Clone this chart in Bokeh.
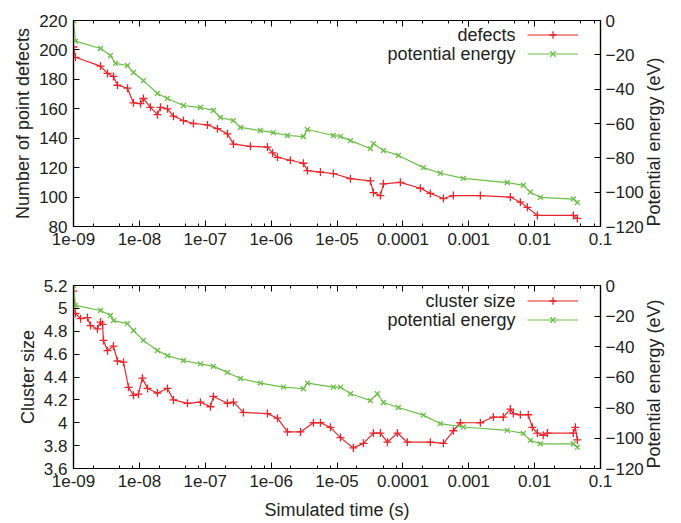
import math
from bokeh.plotting import figure
from bokeh.models import (Range1d, LinearAxis, LogAxis, FixedTicker, Legend, LegendItem,
                          Label, CustomJSTickFormatter)
from bokeh.layouts import column
from bokeh.embed import file_html
from bokeh.resources import INLINE

# ---------------- data ----------------
t_defects = [1.0e-9, 1.07e-9, 2.57e-9, 3.28e-9, 4.04e-9, 4.65e-9, 6.60e-9, 8.13e-9, 1.04e-8, 1.15e-8,
             1.47e-8, 1.88e-8, 2.09e-8, 2.67e-8, 3.29e-8, 4.67e-8, 6.62e-8, 1.08e-7, 1.53e-7, 2.17e-7,
             2.68e-7, 4.85e-7, 8.79e-7, 1.05e-6, 1.25e-6, 1.96e-6, 3.09e-6, 3.56e-6, 5.60e-6, 8.81e-6,
             1.60e-5, 3.21e-5, 3.57e-5, 4.56e-5, 5.06e-5, 9.16e-5, 1.84e-4, 2.61e-4, 4.12e-4, 5.84e-4,
             1.50e-3, 4.28e-3, 6.07e-3, 7.75e-3, 1.10e-2, 3.87e-2, 4.45e-2]
defects = [202, 195, 189, 184, 182, 176, 174, 164, 163.5, 167,
           161, 156, 161, 160, 155, 152, 150, 149, 146.5, 143,
           136, 134.5, 134, 130, 127, 125, 123, 118, 117, 116,
           112.5, 111, 103, 101, 109, 110, 106, 102.5, 99, 101,
           101, 100, 96.5, 93, 87.5, 87.5, 85.5]

t_energy_top = [1.0e-9, 1.07e-9, 2.57e-9, 3.64e-9, 4.34e-9, 6.60e-9, 8.13e-9, 1.15e-8, 1.88e-8, 2.67e-8,
                4.67e-8, 8.45e-8, 1.33e-7, 1.70e-7, 2.68e-7, 3.42e-7, 6.88e-7, 1.08e-6, 1.77e-6, 3.09e-6,
                3.56e-6, 8.81e-6, 1.13e-5, 1.60e-5, 3.21e-5, 3.57e-5, 5.06e-5, 8.55e-5, 2.05e-4, 3.71e-4,
                8.28e-4, 3.85e-3, 6.74e-3, 8.60e-3, 1.22e-2, 3.87e-2, 4.45e-2]
energy_top = [0, -12, -16.3, -20.4, -25, -26.2, -30.3, -35, -42.5, -45.4,
              -49.5, -50.7, -52.4, -56.5, -58.3, -62.3, -64.1, -65.3, -67, -67.6,
              -63.5, -67, -67.5, -70, -74.6, -71.7, -75.7, -78.6, -85.7, -89,
              -92, -94.4, -96, -100, -103, -104, -106]

t_cluster = [1.0e-9, 1.07e-9, 1.28e-9, 1.63e-9, 1.81e-9, 2.31e-9, 2.57e-9, 2.76e-9, 2.85e-9, 3.28e-9,
             4.04e-9, 4.65e-9, 5.74e-9, 6.84e-9, 8.13e-9, 9.68e-9, 1.11e-8, 1.33e-8, 1.88e-8, 2.67e-8,
             3.29e-8, 5.37e-8, 8.45e-8, 1.20e-7, 1.33e-7, 2.17e-7, 2.68e-7, 3.80e-7, 8.79e-7, 1.25e-6,
             1.77e-6, 2.79e-6, 4.39e-6, 5.60e-6, 7.94e-6, 1.13e-5, 1.77e-5, 2.52e-5, 3.57e-5, 4.56e-5,
             5.82e-5, 8.26e-5, 1.17e-4, 2.61e-4, 4.12e-4, 5.84e-4, 7.46e-4, 1.50e-3, 2.36e-3, 3.35e-3,
             4.28e-3, 4.75e-3, 6.07e-3, 8.02e-3, 9.23e-3, 1.10e-2, 1.35e-2, 1.56e-2, 3.87e-2, 4.15e-2,
             4.45e-2]
cluster = [5.15, 4.955, 4.91, 4.92, 4.85, 4.82, 4.88, 4.86, 4.72, 4.63,
           4.67, 4.54, 4.53, 4.31, 4.24, 4.25, 4.39, 4.30, 4.26, 4.30,
           4.20, 4.17, 4.18, 4.14, 4.23, 4.17, 4.18, 4.09, 4.08, 4.04,
           3.92, 3.92, 4.00, 4.00, 3.96, 3.87, 3.78, 3.82, 3.91, 3.91,
           3.83, 3.91, 3.83, 3.83, 3.82, 3.93, 4.00, 4.00, 4.05, 4.05,
           4.12, 4.08, 4.07, 4.07, 3.96, 3.91, 3.89, 3.91, 3.91, 3.96,
           3.85]

t_energy_bot = [1.0e-9, 1.07e-9, 2.57e-9, 3.64e-9, 4.04e-9, 6.60e-9, 8.13e-9, 1.15e-8, 1.88e-8, 2.67e-8,
                4.67e-8, 8.45e-8, 1.33e-7, 2.17e-7, 3.42e-7, 6.88e-7, 1.54e-6, 3.09e-6, 3.56e-6, 8.81e-6,
                1.13e-5, 1.60e-5, 3.21e-5, 4.10e-5, 5.06e-5, 8.55e-5, 2.05e-4, 3.71e-4, 8.28e-4, 3.85e-3,
                6.74e-3, 8.60e-3, 1.22e-2, 3.87e-2, 4.45e-2]
energy_bot = [0, -13, -16.4, -19.7, -23, -25, -29.5, -36, -42.6, -46,
              -49.2, -51.4, -53, -57, -61, -64, -66.6, -67.7, -64, -66.6,
              -66.6, -71, -75.4, -71, -76.7, -80, -85, -90.6, -92.8, -95,
              -97, -101.6, -103.8, -103.8, -106]

x_ticks = [1e-9, 1e-8, 1e-7, 1e-6, 1e-5, 1e-4, 1e-3, 1e-2, 1e-1]
x_tick_labels = ["1e-09", "1e-08", "1e-07", "1e-06", "1e-05", "0.0001", "0.001", "0.01", "0.1"]
x_minor_mult = [2, 5, 8]
defects_ticks = [80, 100, 120, 140, 160, 180, 200, 220]
energy_ticks = [-120, -100, -80, -60, -40, -20, 0]
cluster_ticks = [3.6, 3.8, 4.0, 4.2, 4.4, 4.6, 4.8, 5.0, 5.2]
cluster_tick_labels = ["3.6", "3.8", "4", "4.2", "4.4", "4.6", "4.8", "5", "5.2"]

# ---------------- style ----------------
RED = "#e8262b"
GREEN = "#6abf45"
TXT = "#222222"
FONT = "Liberation Sans"
TICK_FS = "17px"
LAB_FS = "18px"

x_minor = [m * t for t in x_ticks[:-1] for m in x_minor_mult]


def x_formatter():
    return CustomJSTickFormatter(args=dict(tvals=x_ticks, tlabs=x_tick_labels), code="""
        let best = 0;
        const lt = Math.log10(tick);
        for (let i = 0; i < tvals.length; i++) {
            if (Math.abs(Math.log10(tvals[i]) - lt) < Math.abs(Math.log10(tvals[best]) - lt)) best = i;
        }
        return tlabs[best];
    """)


def style_axis(ax, minor=False):
    ax.axis_line_color = "black"
    ax.axis_line_width = 1.2
    ax.major_tick_in = 6
    ax.major_tick_out = 0
    ax.major_tick_line_color = "black"
    ax.major_tick_line_width = 1
    if minor:
        ax.minor_tick_in = 3
        ax.minor_tick_out = 0
        ax.minor_tick_line_color = "black"
    else:
        ax.minor_tick_line_color = None
    ax.major_label_text_font = FONT
    ax.major_label_text_font_size = TICK_FS
    ax.major_label_text_color = TXT
    ax.axis_label_text_font = FONT
    ax.axis_label_text_font_size = LAB_FS
    ax.axis_label_text_font_style = "normal"
    ax.axis_label_text_color = TXT


def make_panel(yrange, yticks, ylabel, tA, yA, tB, yB, top_border, bottom_border,
               frame_h, xlabel=None, yfmt=None):
    p = figure(x_axis_type="log", x_range=Range1d(1e-9, 0.1), y_range=Range1d(*yrange),
               frame_width=527, frame_height=frame_h,
               min_border_left=73, min_border_right=81, min_border_top=top_border,
               min_border_bottom=bottom_border,
               toolbar_location=None, output_backend="svg")
    p.extra_y_ranges = {"energy": Range1d(-120, 0)}
    p.xgrid.visible = False
    p.ygrid.visible = False
    p.outline_line_color = "black"
    p.outline_line_width = 1.2
    p.background_fill_color = "white"
    p.border_fill_color = "white"

    xa = p.xaxis[0]
    xa.ticker = FixedTicker(ticks=x_ticks, minor_ticks=x_minor)
    xa.formatter = x_formatter()
    style_axis(xa, minor=True)
    xa.major_label_standoff = 6
    if xlabel:
        xa.axis_label = xlabel
        xa.axis_label_standoff = 10

    # mirrored ticks on the top border (no labels)
    top_ax = LogAxis(ticker=FixedTicker(ticks=x_ticks, minor_ticks=x_minor),
                     formatter=CustomJSTickFormatter(code="return '';"))
    style_axis(top_ax, minor=True)
    top_ax.major_label_standoff = 0
    p.add_layout(top_ax, "above")

    ya = p.yaxis[0]
    ya.ticker = FixedTicker(ticks=yticks)
    if yfmt is not None:
        ya.formatter = yfmt
    style_axis(ya)
    ya.major_label_standoff = 6
    ya.axis_label = ylabel
    ya.axis_label_standoff = 3

    ra = LinearAxis(y_range_name="energy", ticker=FixedTicker(ticks=energy_ticks))
    style_axis(ra)
    ra.major_label_standoff = 5
    ra.axis_label = "Potential energy (eV)"
    ra.axis_label_standoff = 7
    props = ra.properties()
    if "axis_label_orientation" in props:
        ra.axis_label_orientation = math.pi / 2
        if "axis_label_align" in props:
            ra.axis_label_align = "start"
    p.add_layout(ra, "right")

    lA = p.line(tA, yA, line_color=RED, line_width=1.2)
    sA = p.scatter(tA, yA, marker="cross", size=8, line_color=RED, line_width=1.3)
    lB = p.line(tB, yB, line_color=GREEN, line_width=1.2, y_range_name="energy")
    sB = p.scatter(tB, yB, marker="x", size=7, line_color=GREEN, line_width=1.3, y_range_name="energy")

    return p, (lA, sA), (lB, sB)


top, redT, greenT = make_panel((80, 220), defects_ticks, "Number of point defects",
                               t_defects, defects, t_energy_top, energy_top,
                               20, 34, 206)
cl_fmt = CustomJSTickFormatter(args=dict(tvals=cluster_ticks, tlabs=cluster_tick_labels), code="""
    let best = 0;
    for (let i = 0; i < tvals.length; i++) {
        if (Math.abs(tvals[i] - tick) < Math.abs(tvals[best] - tick)) best = i;
    }
    return tlabs[best];
""")
bot, redB, greenB = make_panel((3.6, 5.2), cluster_ticks, "Cluster size",
                               t_cluster, cluster, t_energy_bot, energy_bot,
                               25, 55, 183, xlabel="Simulated time (s)", yfmt=cl_fmt)


def add_legend(p, red, green, names, frame_h, row1_from_top):
    leg = Legend(items=[LegendItem(label=" ", renderers=list(red)),
                        LegendItem(label=" ", renderers=list(green))],
                 location=(454, frame_h - (row1_from_top - 9.5) - 38),
                 glyph_width=51, glyph_height=19, label_height=19, label_width=1,
                 label_standoff=0, padding=0, margin=0, spacing=0,
                 border_line_alpha=0, background_fill_alpha=0,
                 label_text_font_size="8px")
    p.add_layout(leg)
    for i, name in enumerate(names):
        p.add_layout(Label(x=442, y=frame_h - (row1_from_top + 19 * i), x_units="screen", y_units="screen",
                           text=name, text_align="right", text_baseline="middle",
                           text_font=FONT, text_font_size=LAB_FS, text_color=TXT))


add_legend(top, redT, greenT, ["defects", "potential energy"], 206, 14)
add_legend(bot, redB, greenB, ["cluster size", "potential energy"], 183, 15)

layout = column(top, bot, spacing=0)
open("out.html", "w").write(file_html(layout, INLINE))
